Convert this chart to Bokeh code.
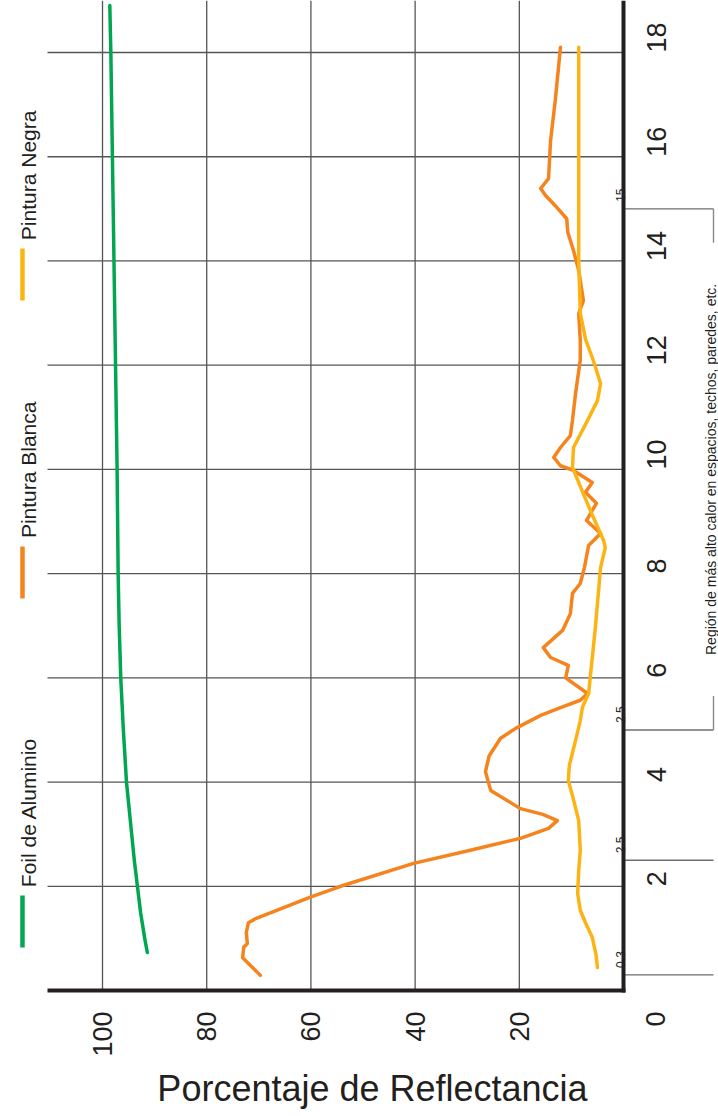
import math
from bokeh.plotting import figure
from bokeh.models import Range1d, FixedTicker
from bokeh.core.properties import value
from bokeh.embed import file_html
from bokeh.resources import INLINE

# ---------------- data ----------------
axis_title = "Porcentaje de Reflectancia"
refl_ticks = [20, 40, 60, 80, 100]
wl_ticks = [2, 4, 6, 8, 10, 12, 14, 16, 18]
origin_label = "0"
series_names = ["Foil de Aluminio", "Pintura Blanca", "Pintura Negra"]
series_colors = ["#00a651", "#f5841f", "#fcb415"]

foil_wl = [0.73, 1.0, 1.5, 2.0, 2.5, 3.0, 4.0, 5.0, 6.0, 7.0, 8.0, 10.0, 12.0, 14.0, 16.0, 18.0, 18.9]
foil_refl = [91.4, 91.9, 92.7, 93.3, 93.9, 94.4, 95.4, 96.0, 96.5, 96.8, 97.0, 97.2, 97.5, 97.8, 98.1, 98.4, 98.6]

white_wl = [0.29, 0.46, 0.63, 0.83, 0.90, 1.11, 1.30, 1.38, 1.79, 2.0, 2.44, 2.69, 2.92, 3.11,
            3.26, 3.38, 3.49, 3.84, 4.2, 4.5, 4.84, 5.03, 5.28, 5.43, 5.57, 5.70, 6.0, 6.24,
            6.39, 6.58, 6.91, 7.23, 7.62, 7.81, 8.12, 8.54, 8.77, 9.02, 9.35, 9.56, 9.75, 9.98,
            10.07, 10.23, 10.42, 10.65, 10.94, 11.46, 12.1, 12.47, 12.99, 13.24, 13.82, 14.2,
            14.55, 14.81, 15.06, 15.26, 15.39, 15.58, 15.93, 16.31, 17.08, 18.1]
white_refl = [69.7, 71.4, 73.1, 72.9, 72.2, 72.4, 72.0, 70.6, 60.1, 54.3, 40.3, 29.4, 19.8, 14.4,
              12.7, 15.5, 19.8, 25.5, 26.5, 25.8, 23.6, 20.7, 15.9, 12.1, 8.3, 6.9, 11.1, 10.6,
              14.0, 15.4, 11.7, 10.2, 9.8, 8.3, 7.5, 6.7, 4.4, 7.1, 5.2, 7.3, 6.0, 9.6,
              12.1, 13.4, 12.1, 10.2, 9.8, 9.2, 8.3, 8.3, 8.6, 7.7, 8.6, 9.6,
              10.7, 10.9, 13.1, 15.0, 15.9, 14.4, 14.2, 14.0, 13.1, 12.1]

black_wl = [0.44, 0.7, 1.02, 1.3, 1.54, 1.86, 2.3, 2.69, 3.26, 3.74, 4.03, 4.32, 4.8, 5.18, 5.43,
            5.7, 6.97, 8.12, 8.5, 8.63, 9.08, 9.53, 10.04, 10.42, 10.94, 11.32, 11.65, 12.09,
            12.5, 13.0, 14.0, 16.0, 18.1]
black_refl = [5.0, 5.3, 6.0, 7.3, 8.3, 8.8, 8.6, 8.3, 8.6, 9.8, 10.6, 10.4, 9.2, 8.3, 7.9,
              6.7, 5.4, 4.4, 3.5, 3.8, 5.8, 7.7, 9.8, 9.6, 6.9, 5.0, 4.4, 5.8,
              7.3, 8.3, 8.6, 8.6, 8.6]

region_marks = [0.3, 2.5, 5.0, 15.0]
region_mark_labels = ["0.3", "2.5", "2.5", "15"]
region_span = [5.0, 15.0]
region_text = "Región de más alto calor en espacios, techos, paredes, etc."

# ---------------- layout / style ----------------
FONT = value("Liberation Sans")
INK = "#231f20"
GRID = "#555555"
X_RANGE = (119.58, -18.23)      # reflectance, reversed (left -> right)
Y_RANGE = (-2.418, 18.998)      # wavelength
REFL_EDGE = 110.56              # left end of the plotting area
Y_TOP = Y_RANGE[1]
BR_X = -17.27                   # bracket end
ROT = math.pi / 2

p = figure(width=718, height=1116, x_range=Range1d(*X_RANGE), y_range=Range1d(*Y_RANGE),
           output_backend="svg", toolbar_location=None, y_axis_location="right",
           min_border=0, background_fill_color="white", border_fill_color="white")
p.outline_line_color = None
p.grid.visible = False

# grid lines
n = len(refl_ticks)
p.segment(x0=refl_ticks, y0=[0] * n, x1=refl_ticks, y1=[Y_TOP] * n,
          line_color=GRID, line_width=1.3)
m = len(wl_ticks)
p.segment(x0=[0] * m, y0=wl_ticks, x1=[REFL_EDGE] * m, y1=wl_ticks,
          line_color=GRID, line_width=1.3)

# bracket / region marks
k = len(region_marks)
p.segment(x0=[0] * k, y0=region_marks, x1=[BR_X] * k, y1=region_marks,
          line_color="#6e6e6e", line_width=1.4)
cap = 0.65
p.segment(x0=[BR_X, BR_X], y0=[region_span[1], region_span[0]],
          x1=[BR_X, BR_X], y1=[region_span[1] - cap, region_span[0] + cap],
          line_color="#8a8a8a", line_width=1.4)
p.text(x=[0.6] * k, y=[v + 0.134 for v in region_marks], text=region_mark_labels,
       angle=ROT, text_font=FONT, text_font_size="12px", text_color=INK,
       text_align="left", text_baseline="alphabetic")
p.text(x=[-16.7], y=[sum(region_span) / 2], text=[region_text], angle=ROT,
       text_font=FONT, text_font_size="14px", text_color=INK,
       text_align="center", text_baseline="alphabetic")

# data curves
for wl, rf, col in [(foil_wl, foil_refl, series_colors[0]),
                    (white_wl, white_refl, series_colors[1]),
                    (black_wl, black_refl, series_colors[2])]:
    p.line(x=rf, y=wl, line_color=col, line_width=3.5, line_join="round", line_cap="round")

# legend (rotated, drawn manually)
leg_x = 115.36
leg_anchor = [0.825, 7.523, 13.241]
leg_len = 0.998
p.segment(x0=[leg_x] * 3, y0=leg_anchor, x1=[leg_x] * 3, y1=[a + leg_len for a in leg_anchor],
          line_color=series_colors, line_width=4.5)
p.text(x=[114.3] * 3, y=[a + leg_len + 0.16 for a in leg_anchor], text=series_names,
       angle=ROT, text_font=FONT, text_font_size="21px", text_color=INK,
       text_align="left", text_baseline="alphabetic")

# axis title and corner label
p.text(x=[48.18], y=[-1.881], text=[axis_title], text_font=FONT, text_font_size="36px",
       text_color=INK, text_align="center", text_baseline="middle")
p.text(x=[-6.14], y=[-0.405], text=[origin_label], angle=ROT, text_font=FONT,
       text_font_size="27px", text_color=INK, text_align="right", text_baseline="middle")

# axes
xa = p.xaxis[0]
xa.fixed_location = 0
xa.bounds = (-0.38, REFL_EDGE)
xa.ticker = FixedTicker(ticks=refl_ticks)
ya = p.yaxis[0]
ya.fixed_location = 0
ya.bounds = (-0.04, Y_TOP)
ya.ticker = FixedTicker(ticks=wl_ticks)
for ax in (xa, ya):
    ax.major_tick_in = 0
    ax.major_tick_out = 0
    ax.minor_tick_in = 0
    ax.minor_tick_out = 0
    ax.axis_line_width = 4
    ax.axis_line_color = INK
    ax.major_label_orientation = ROT
    ax.major_label_text_font = "Liberation Sans"
    ax.major_label_text_font_size = "27px"
    ax.major_label_text_color = INK
xa.major_label_standoff = 21
ya.major_label_standoff = 33

open("out.html", "w").write(file_html(p, INLINE))
